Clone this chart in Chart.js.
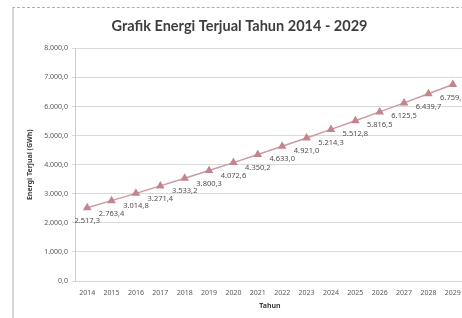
<!DOCTYPE html>
<html>
<head>
<meta charset="utf-8">
<title>Grafik Energi Terjual</title>
<script src="https://cdn.jsdelivr.net/npm/chart.js@4"></script>
<style>
    html, body { margin: 0; padding: 0; background: #fff; overflow: hidden; }
    body { width: 462px; height: 318px; position: relative; }
    .frame {
        position: absolute; left: 12px; top: 7px;
        width: 520px; height: 400px;
        border-left: 2px solid #d6d6d6;
        border-top: 1px dashed #b0b0b0;
    }
    #chart { position: absolute; left: 0; top: 1px; }
</style>
</head>
<body>
<div class="frame">
    <canvas id="chart" width="462" height="310"></canvas>
</div>
<script>
// data
const years = ['2014', '2015', '2016', '2017', '2018', '2019', '2020', '2021',
               '2022', '2023', '2024', '2025', '2026', '2027', '2028', '2029'];
const energy = [2517.3, 2763.4, 3014.8, 3271.4, 3533.2, 3800.3, 4072.6, 4350.2,
                4633.0, 4921.0, 5214.3, 5512.8, 5816.5, 6125.5, 6439.7, 6759.1];
const yMin = 0;
const yMax = 8000;
const yStep = 1000;

// Indonesian style number: 2.517,3
function fmt(v) {
    const parts = Number(v).toFixed(1).split('.');
    parts[0] = parts[0].replace(/\B(?=(\d{3})+(?!\d))/g, '.');
    return parts.join(',');
}

// draws the value under each point
const valueLabels = {
    id: 'valueLabels',
    afterDatasetsDraw(chart) {
        const ctx = chart.ctx;
        const meta = chart.getDatasetMeta(0);
        ctx.save();
        ctx.font = '7.5px "Noto Sans"';
        ctx.fillStyle = '#505050';
        ctx.textAlign = 'center';
        ctx.textBaseline = 'middle';
        meta.data.forEach((pt, i) => {
            ctx.fillText(fmt(energy[i]), pt.x, pt.y + 13);
        });
        ctx.restore();
    }
};

const ctx = document.getElementById('chart').getContext('2d');
new Chart(ctx, {
    type: 'line',
    data: {
        labels: years,
        datasets: [{
            data: energy,
            borderColor: '#cc9aa2',
            borderWidth: 1.5,
            pointStyle: 'triangle',
            pointRadius: 3.5,
            pointBackgroundColor: '#c4848e',
            pointBorderColor: '#c4848e',
            tension: 0
        }]
    },
    options: {
        responsive: false,
        animation: false,
        layout: { padding: { left: 0, right: 11, top: 0, bottom: 0 } },
        plugins: {
            legend: { display: false },
            tooltip: { enabled: false },
            title: {
                display: true,
                text: 'Grafik Energi Terjual Tahun 2014 - 2029',
                color: '#3d3d3d',
                font: { family: 'Lato', size: 14.5, weight: 'bold' },
                padding: { top: 9, bottom: 13 }
            }
        },
        scales: {
            x: {
                offset: true,
                grid: { display: false },
                border: { display: true, color: '#d4d4d4' },
                ticks: {
                    color: '#595959',
                    font: { family: 'Noto Sans', size: 7 },
                    padding: 0,
                    maxRotation: 0,
                    autoSkip: false
                },
                title: {
                    display: true,
                    text: 'Tahun',
                    color: '#404040',
                    font: { family: 'Noto Sans', size: 7, weight: 'bold' },
                    padding: { top: 2, bottom: 9 }
                },
                afterFit(scale) { scale.height = 38; }
            },
            y: {
                min: yMin,
                max: yMax,
                grid: { color: '#d9d9d9', tickLength: 3 },
                border: { display: true, color: '#cccccc' },
                ticks: {
                    stepSize: yStep,
                    color: '#595959',
                    font: { family: 'Noto Sans', size: 7 },
                    padding: 4,
                    callback: v => fmt(v)
                },
                title: {
                    display: true,
                    text: 'Energi Terjual (GWh)',
                    color: '#404040',
                    font: { family: 'Noto Sans', size: 7, weight: 'bold' },
                    padding: { top: 12, bottom: 2 }
                },
                afterFit(scale) { scale.width = 61; }
            }
        }
    },
    plugins: [valueLabels]
});
</script>
</body>
</html>
